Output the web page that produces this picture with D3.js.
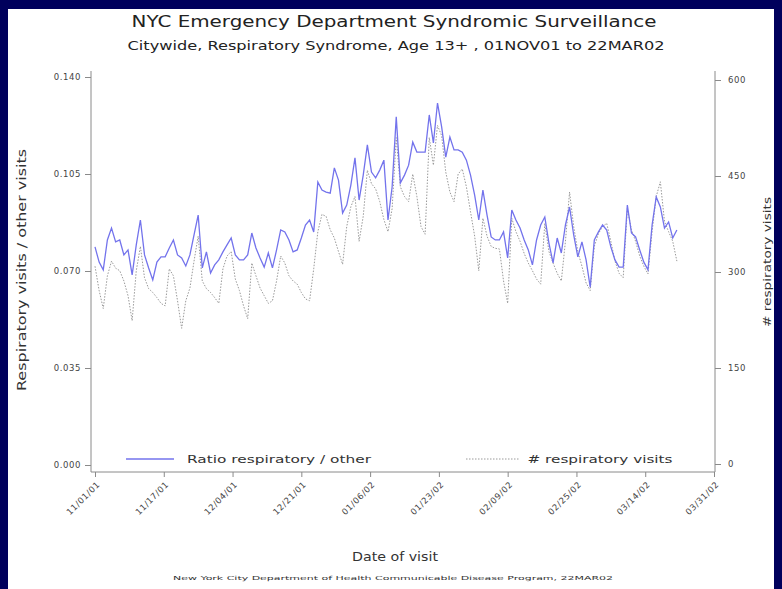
<!DOCTYPE html>
<html>
<head>
<meta charset="utf-8">
<script src="https://cdn.jsdelivr.net/npm/d3@7"></script>
<style>
  html, body { margin: 0; padding: 0; background: #00005c; }
  svg { display: block; }
  text { font-family: 'DejaVu Sans', Arial, sans-serif; fill: #333; }
  .axis line { stroke: #8a8a8a; }
  .axis text { font-size: 8.5px; letter-spacing: 0.6px; fill: #444; }
</style>
</head>
<body>
<div id="chart"></div>
<script>
// ratio of respiratory visits to other visits, one value per day from 01NOV01 to 22MAR02
const ratio = [
  0.0787, 0.0732, 0.0704, 0.0812, 0.0855, 0.0805, 0.0812, 0.0758, 0.0776, 0.0686,
  0.0794, 0.0884, 0.0758, 0.0711, 0.0668, 0.0732, 0.0751, 0.0751, 0.0783, 0.0812,
  0.0758, 0.0747, 0.0718, 0.0758, 0.0830, 0.0902, 0.0711, 0.0769, 0.0693, 0.0722,
  0.0740, 0.0769, 0.0794, 0.0819, 0.0758, 0.0740, 0.0740, 0.0758, 0.0837, 0.0783,
  0.0747, 0.0714, 0.0765, 0.0711, 0.0776, 0.0848, 0.0841, 0.0812, 0.0769, 0.0776,
  0.0819, 0.0866, 0.0884, 0.0841, 0.1021, 0.0992, 0.0985, 0.0981, 0.1072, 0.1028,
  0.0909, 0.0938, 0.1010, 0.1108, 0.0956, 0.1046, 0.1155, 0.1057, 0.1036, 0.1064,
  0.1100, 0.0884, 0.1003, 0.1256, 0.1018, 0.1046, 0.1082, 0.1165, 0.1129, 0.1129,
  0.1129, 0.1263, 0.1162, 0.1306, 0.1220, 0.1111, 0.1183, 0.1137, 0.1137, 0.1129,
  0.1100, 0.1046, 0.0974, 0.0884, 0.0992, 0.0902, 0.0823, 0.0812, 0.0812, 0.0841,
  0.0747, 0.0920, 0.0884, 0.0855, 0.0812, 0.0776, 0.0722, 0.0812, 0.0866, 0.0895,
  0.0801, 0.0729, 0.0819, 0.0765, 0.0866, 0.0931, 0.0830, 0.0751, 0.0805, 0.0740,
  0.0642, 0.0812, 0.0841, 0.0866, 0.0848, 0.0787, 0.0740, 0.0714, 0.0714, 0.0938,
  0.0837, 0.0823, 0.0776, 0.0732, 0.0704, 0.0866, 0.0967, 0.0931, 0.0855, 0.0877,
  0.0819, 0.0848
]

// number of respiratory visits, same days
const visits = [
  309, 271, 243, 294, 317, 306, 302, 286, 263, 224,
  302, 340, 291, 274, 268, 260, 251, 247, 305, 294,
  255, 212, 255, 275, 317, 356, 286, 274, 268, 260,
  251, 305, 325, 332, 289, 271, 247, 227, 314, 294,
  275, 263, 251, 255, 286, 325, 314, 294, 286, 281,
  268, 258, 255, 305, 363, 390, 387, 366, 353, 332,
  312, 371, 402, 418, 348, 387, 459, 438, 430, 410,
  382, 363, 399, 510, 433, 418, 410, 453, 418, 371,
  359, 510, 467, 529, 513, 456, 425, 410, 453, 461,
  433, 394, 356, 302, 384, 356, 340, 337, 336, 286,
  251, 384, 363, 348, 329, 314, 302, 289, 281, 376,
  332, 314, 298, 286, 348, 425, 371, 332, 309, 283,
  271, 340, 360, 371, 376, 348, 317, 298, 291, 399,
  366, 348, 325, 309, 297, 363, 418, 441, 379, 363,
  348, 317
]

const xTickLabels = ['11/01/01', '11/17/01', '12/04/01', '12/21/01', '01/06/02',
  '01/23/02', '02/09/02', '02/25/02', '03/14/02', '03/31/02']
const ratioTicks = [0, 0.035, 0.070, 0.105, 0.140]
const visitTicks = [0, 150, 300, 450, 600]

const width = 782
const height = 589

const svg = d3.select('#chart').append('svg')
    .attr('width', width)
    .attr('height', height)

// white panel on the navy slide
svg.append('rect')
    .attr('x', 8).attr('y', 9)
    .attr('width', 766).attr('height', height - 9)
    .attr('fill', '#fff')

// days since 01NOV01, the last tick is 31MAR02 (day 150)
const x = d3.scaleLinear().domain([0, 150]).range([95, 714])
const yL = d3.scaleLinear().domain([0, 0.14]).range([465, 77])
const yR = d3.scaleLinear().domain([0, 600]).range([464, 80])

const xTickValues = xTickLabels.map(function (d, i) { return i * 150 / 9 })

// axes
const gxl = svg.append('g').attr('class', 'axis')
    .attr('transform', 'translate(91,0)')
    .call(d3.axisLeft(yL).tickValues(ratioTicks).tickSize(6).tickPadding(4)
      .tickFormat(d3.format('.3f')))
gxl.select('.domain').remove()

const gxr = svg.append('g').attr('class', 'axis')
    .attr('transform', 'translate(715,0)')
    .call(d3.axisRight(yR).tickValues(visitTicks).tickSize(6).tickPadding(7))
gxr.select('.domain').remove()

const gx = svg.append('g').attr('class', 'axis')
    .attr('transform', 'translate(0,472)')
    .call(d3.axisBottom(x).tickValues(xTickValues).tickSize(5)
      .tickFormat(function (d, i) { return xTickLabels[i] }))
gx.select('.domain').remove()
gx.selectAll('text')
    .attr('text-anchor', 'end')
    .attr('dy', null)
    .attr('y', 0)
    .attr('transform', 'translate(5,13)rotate(-45)')

// frame: left, bottom, right
svg.append('path')
    .attr('d', 'M91,71V472H715V71')
    .attr('fill', 'none')
    .attr('stroke', '#8a8a8a')

// series
const visitLine = d3.line()
    .x(function (d, i) { return x(i) })
    .y(function (d) { return yR(d) })
const ratioLine = d3.line()
    .x(function (d, i) { return x(i) })
    .y(function (d) { return yL(d) })

svg.append('path').datum(visits)
    .attr('d', visitLine)
    .attr('fill', 'none')
    .attr('stroke', '#9a9a9a')
    .attr('stroke-width', 1)
    .attr('stroke-dasharray', '1.5,1.5')

svg.append('path').datum(ratio)
    .attr('d', ratioLine)
    .attr('fill', 'none')
    .attr('stroke', '#7373ec')
    .attr('stroke-width', 1.3)

// text helper: stretch glyphs to the measured span, like the wide original font
function label (x, y, size, len, str, rot) {
  const t = svg.append('text')
      .attr('text-anchor', 'middle')
      .attr('font-size', size)
      .attr('textLength', len)
      .attr('lengthAdjust', 'spacingAndGlyphs')
      .text(str)
  if (rot) t.attr('transform', 'translate(' + x + ',' + y + ')rotate(' + rot + ')')
  else t.attr('x', x).attr('y', y)
  return t
}

// legend
svg.append('line')
    .attr('x1', 126).attr('x2', 174).attr('y1', 459).attr('y2', 459)
    .attr('stroke', '#7373ec').attr('stroke-width', 1.3)
label(279, 463, 11, 184, 'Ratio respiratory / other')
svg.append('line')
    .attr('x1', 466).attr('x2', 520).attr('y1', 459).attr('y2', 459)
    .attr('stroke', '#9a9a9a').attr('stroke-dasharray', '1.5,1.5')
label(600, 463, 11, 145, '# respiratory visits')

// titles
label(394, 27, 15, 525, 'NYC Emergency Department Syndromic Surveillance').style('fill', '#222')
label(396, 50, 12.5, 537, 'Citywide, Respiratory Syndrome, Age 13+ , 01NOV01 to 22MAR02').style('fill', '#222')
label(395, 561, 13, 86, 'Date of visit')
label(26, 270, 12, 242, 'Respiratory visits / other visits', -90)
label(771, 262, 11, 130, '# respiratory visits', -90)
label(393, 580, 5.5, 440, 'New York City Department of Health Communicable Disease Program, 22MAR02')
</script>
</body>
</html>
